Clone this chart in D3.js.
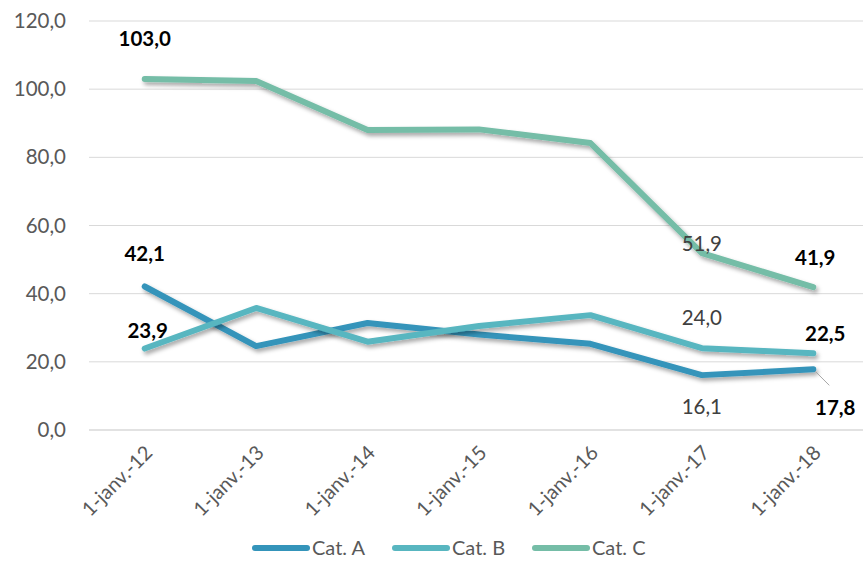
<!DOCTYPE html>
<html>
<head>
<meta charset="utf-8">
<script src="https://cdn.jsdelivr.net/npm/d3@7"></script>
<style>
  body { margin: 0; background: #fff; }
  svg text { font-family: Lato, "Open Sans", sans-serif; }
</style>
</head>
<body>
<div id="chart"></div>
<script>
const categories = ['1-janv.-12', '1-janv.-13', '1-janv.-14', '1-janv.-15', '1-janv.-16', '1-janv.-17', '1-janv.-18'];
const catA = [42.1, 24.6, 31.4, 28.0, 25.3, 16.1, 17.8];
const catB = [23.9, 35.8, 25.9, 30.5, 33.7, 24.0, 22.5];
const catC = [103.0, 102.4, 88.0, 88.2, 84.2, 51.9, 41.9];
const yTicks = [0, 20, 40, 60, 80, 100, 120];

// étiquettes affichées : [série, index, gras, dx, dy]
const labels = [
  ['C', 0, true, 0, -33],
  ['C', 5, false, 0, -2],
  ['C', 6, true, 2, -22],
  ['A', 0, true, 0, -26],
  ['A', 5, false, 0, 39],
  ['A', 6, true, 22, 46],
  ['B', 0, true, 3, -11],
  ['B', 5, false, 0, -23],
  ['B', 6, true, 12, -12]
];

const series = [
  { name: 'Cat. A', key: 'A', values: catA, color: '#3494BA' },
  { name: 'Cat. B', key: 'B', values: catB, color: '#58B6C0' },
  { name: 'Cat. C', key: 'C', values: catC, color: '#75BDA7' }
];

const width = 863, height = 585;
const margin = { top: 21, right: -6, bottom: 155, left: 89 };

const svg = d3.select('#chart').append('svg')
  .attr('width', width)
  .attr('height', height);

const defs = svg.append('defs');
defs.append('filter')
  .attr('id', 'shadow')
  .attr('x', '-10%').attr('y', '-10%').attr('width', '120%').attr('height', '130%')
  .append('feDropShadow')
  .attr('dx', 2).attr('dy', 3).attr('stdDeviation', 2)
  .attr('flood-color', '#000').attr('flood-opacity', 0.35);

const x = d3.scaleBand()
  .domain(categories)
  .range([margin.left, width - margin.right]);

const y = d3.scaleLinear()
  .domain([0, 120])
  .range([height - margin.bottom, margin.top]);

const fmt = v => d3.format('.1f')(v).replace('.', ',');
const cx = c => x(c) + x.bandwidth() / 2;

// grille
svg.append('g')
  .selectAll('line')
  .data(yTicks)
  .enter()
  .append('line')
  .attr('x1', margin.left)
  .attr('x2', width)
  .attr('y1', d => y(d))
  .attr('y2', d => y(d))
  .attr('stroke', '#d9d9d9')
  .attr('stroke-width', d => d === 0 ? 1.5 : 1);

// axe Y
svg.append('g')
  .selectAll('text')
  .data(yTicks)
  .enter()
  .append('text')
  .attr('x', 66)
  .attr('y', d => y(d) + 7)
  .attr('text-anchor', 'end')
  .attr('font-size', '20.5px')
  .attr('fill', '#595959')
  .text(d => fmt(d));

// axe X
svg.append('g')
  .selectAll('text')
  .data(categories)
  .enter()
  .append('text')
  .attr('text-anchor', 'end')
  .attr('font-size', '20px')
  .attr('fill', '#595959')
  .attr('transform', d => `translate(${cx(d) + 9},${y(0) + 24}) rotate(-45)`)
  .text(d => d);

// courbes
const line = d3.line()
  .x((d, i) => cx(categories[i]))
  .y(d => y(d));

svg.append('g')
  .selectAll('path')
  .data(series)
  .enter()
  .append('path')
  .attr('d', d => line(d.values))
  .attr('fill', 'none')
  .attr('stroke', d => d.color)
  .attr('stroke-width', 6)
  .attr('stroke-linecap', 'round')
  .attr('stroke-linejoin', 'round')
  .attr('filter', 'url(#shadow)');

// trait de rappel pour 17,8
svg.append('line')
  .attr('x1', cx(categories[6]) + 2)
  .attr('y1', y(catA[6]) + 2)
  .attr('x2', cx(categories[6]) + 16)
  .attr('y2', y(catA[6]) + 16)
  .attr('stroke', '#a6a6a6')
  .attr('stroke-width', 1);

// étiquettes de données
const byKey = { A: catA, B: catB, C: catC };
svg.append('g')
  .selectAll('text')
  .data(labels)
  .enter()
  .append('text')
  .attr('x', d => cx(categories[d[1]]) + d[3])
  .attr('y', d => y(byKey[d[0]][d[1]]) + d[4])
  .attr('text-anchor', 'middle')
  .attr('font-size', '20.5px')
  .attr('font-weight', d => d[2] ? 'bold' : 'normal')
  .attr('fill', d => d[2] ? '#000' : '#404040')
  .text(d => fmt(byKey[d[0]][d[1]]));

// légende
const legend = svg.append('g')
  .selectAll('g')
  .data(series)
  .enter()
  .append('g')
  .attr('transform', (d, i) => `translate(${252 + i * 140},548)`);

legend.append('line')
  .attr('x1', 3).attr('x2', 55)
  .attr('y1', 0).attr('y2', 0)
  .attr('stroke', d => d.color)
  .attr('stroke-width', 6)
  .attr('stroke-linecap', 'round');

legend.append('text')
  .attr('x', 60)
  .attr('y', 7)
  .attr('font-size', '20px')
  .attr('fill', '#595959')
  .text(d => d.name);
</script>
</body>
</html>
